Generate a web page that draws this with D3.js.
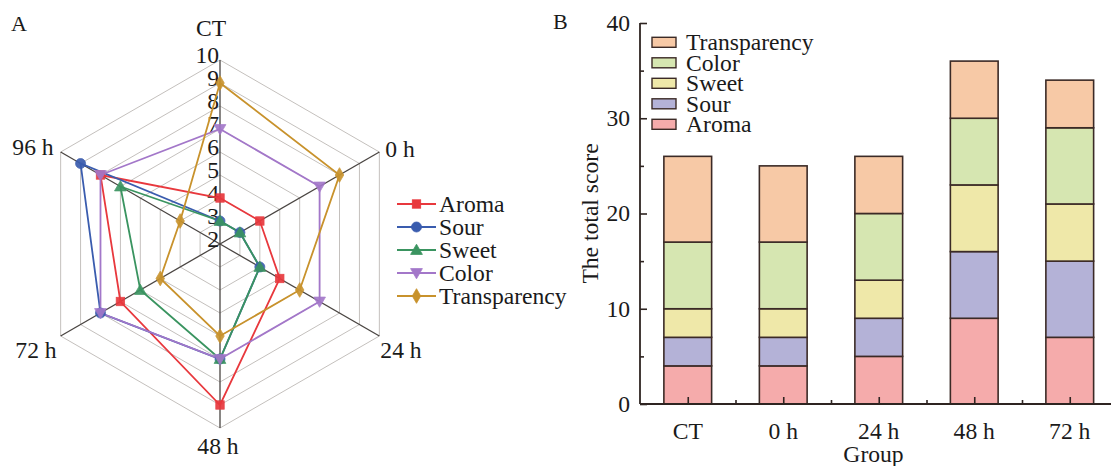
<!DOCTYPE html>
<html>
<head>
<meta charset="utf-8">
<script src="https://cdn.jsdelivr.net/npm/d3@7"></script>
<style>
  html, body { margin: 0; padding: 0; background: #fff; }
  svg { display: block; }
  text { font-family: "Liberation Serif", "Times New Roman", serif; fill: #1a1a1a; }
</style>
</head>
<body>
<svg id="chart" width="1111" height="466"></svg>
<script>
// Sensory scores per group
const radarGroups = ["CT", "0 h", "24 h", "48 h", "72 h", "96 h"];
const barGroups = ["CT", "0 h", "24 h", "48 h", "72 h"];
const attributes = ["Aroma", "Sour", "Sweet", "Color", "Transparency"];
const aroma = [4, 4, 5, 9, 7, 8];
const sour = [3, 3, 4, 7, 8, 9];
const sweet = [3, 3, 4, 7, 6, 7];
const color = [7, 7, 7, 7, 8, 8];
const transparency = [9, 8, 6, 6, 5, 4];
const radarTicks = [2, 3, 4, 5, 6, 7, 8, 9, 10];
const barTicks = [0, 10, 20, 30, 40];

const seriesValues = { Aroma: aroma, Sour: sour, Sweet: sweet, Color: color, Transparency: transparency };

const lineColors = { Aroma: "#e8383d", Sour: "#3a5cae", Sweet: "#3a9460", Color: "#a377c9", Transparency: "#c8922c" };
const markerTypes = { Aroma: "square", Sour: "circle", Sweet: "triangle", Color: "triangleDown", Transparency: "diamond" };
const barFills = { Aroma: "#f5abab", Sour: "#b4b2d7", Sweet: "#efe8a9", Color: "#d6e6b1", Transparency: "#f7c9a6" };

const svg = d3.select("#chart");
const FS = 22.5;
const SX = 1.05; // slightly wide lettering

// text placed at (x, y) with a little horizontal stretch
function label(g, x, y, str, opts = {}) {
  const t = g.append("text")
    .attr("transform", `translate(${x},${y}) scale(${opts.sx || SX},1)`)
    .attr("font-size", opts.size || FS)
    .attr("text-anchor", opts.anchor || "start")
    .text(str);
  if (opts.central) t.attr("dominant-baseline", "central");
  return t;
}

function drawMarker(g, type, x, y, fill) {
  let p;
  if (type === "square") {
    p = g.append("rect").attr("x", x - 4.2).attr("y", y - 4.2).attr("width", 8.4).attr("height", 8.4);
  } else if (type === "circle") {
    p = g.append("circle").attr("cx", x).attr("cy", y).attr("r", 5);
  } else {
    const sym = { triangle: d3.symbolTriangle, triangleDown: d3.symbolTriangle, diamond: d3.symbolDiamond }[type];
    const size = type === "diamond" ? 62 : 60;
    const rot = type === "triangleDown" ? 180 : 0;
    const dy = type === "triangle" ? 1 : (type === "triangleDown" ? -1 : 0);
    p = g.append("path").attr("d", d3.symbol().type(sym).size(size)())
      .attr("transform", `translate(${x},${y + dy}) rotate(${rot})`);
  }
  p.attr("fill", fill).attr("stroke", fill).attr("stroke-width", 0.8);
}

// ---------- Panel A: radar ----------
const cx = 220, cy = 244;
const rScale = d3.scaleLinear().domain([2, 10]).range([0, 184]);
const angle = i => (-90 + i * 60) * Math.PI / 180;
const pt = (i, v) => [cx + rScale(v) * Math.cos(angle(i)), cy + rScale(v) * Math.sin(angle(i))];

const radar = svg.append("g");

// hexagonal rings
radarTicks.slice(1).forEach(t => {
  const pts = radarGroups.map((_, i) => pt(i, t));
  radar.append("path")
    .attr("d", d3.line()(pts) + "Z")
    .attr("fill", "none").attr("stroke", "#c4c0bd").attr("stroke-width", 1);
});

// spokes
radarGroups.forEach((_, i) => {
  const [x, y] = pt(i, 10);
  radar.append("line").attr("x1", cx).attr("y1", cy).attr("x2", x).attr("y2", y)
    .attr("stroke", "#4a4542").attr("stroke-width", 1.3);
});

// ring value labels along the CT spoke
radarTicks.forEach(t => {
  label(radar, cx - 1, cy - rScale(t) + 3, t, { anchor: "end" });
});

// group labels
const labelPos = [
  { dx: -9, dy: -24, anchor: "middle" },
  { dx: 6, dy: 5, anchor: "start" },
  { dx: 1, dy: 22, anchor: "start" },
  { dx: -2, dy: 26, anchor: "middle" },
  { dx: -4, dy: 22, anchor: "end" },
  { dx: -7, dy: 3, anchor: "end" }
];
radarGroups.forEach((g, i) => {
  const [x, y] = pt(i, 10);
  label(radar, x + labelPos[i].dx, y + labelPos[i].dy, g, { anchor: labelPos[i].anchor });
});

// series polygons
const radarLine = d3.line();
attributes.forEach(a => {
  const vals = seriesValues[a];
  const pts = vals.map((v, i) => pt(i, v));
  radar.append("path").attr("d", radarLine(pts) + "Z")
    .attr("fill", "none").attr("stroke", lineColors[a]).attr("stroke-width", 1.8);
});
attributes.forEach(a => {
  const vals = seriesValues[a];
  const mg = radar.append("g").attr("opacity", 0.92);
  vals.forEach((v, i) => {
    const [x, y] = pt(i, v);
    drawMarker(mg, markerTypes[a], x, y, lineColors[a]);
  });
});

// legend
const legA = svg.append("g");
attributes.forEach((a, k) => {
  const y = 204 + k * 23;
  legA.append("line").attr("x1", 397).attr("x2", 436).attr("y1", y).attr("y2", y)
    .attr("stroke", lineColors[a]).attr("stroke-width", 1.8);
  drawMarker(legA, markerTypes[a], 416.5, y, lineColors[a]);
  label(legA, 439, y, a, { central: true });
});

label(svg, 11, 31, "A", { size: 21 });

// ---------- Panel B: stacked bars ----------
const axisColor = "#2e2421";
const x0 = 640, step = 95.5;
const xScale = d3.scaleBand().domain(barGroups)
  .range([x0, x0 + step * barGroups.length]).paddingInner(0.5).paddingOuter(0.25);
const yScale = d3.scaleLinear().domain([0, 40]).range([404, 23]);

const rows = barGroups.map((g, i) => {
  const r = { group: g };
  attributes.forEach(a => { r[a] = seriesValues[a][i]; });
  return r;
});
const stacked = d3.stack().keys(attributes)(rows);

const bars = svg.append("g");
stacked.forEach(layer => {
  bars.selectAll(null).data(layer).join("rect")
    .attr("x", d => xScale(d.data.group))
    .attr("width", xScale.bandwidth())
    .attr("y", d => yScale(d[1]))
    .attr("height", d => yScale(d[0]) - yScale(d[1]))
    .attr("fill", barFills[layer.key])
    .attr("stroke", "#3b2a26").attr("stroke-width", 1.6);
});

// y axis with inward ticks
const yAxis = d3.axisRight(yScale).tickValues(barTicks).tickSize(7).tickFormat("");
const yAxisG = svg.append("g").attr("transform", `translate(${x0},0)`).call(yAxis);
const yMinor = d3.axisRight(yScale).tickValues([5, 15, 25, 35]).tickSize(4).tickFormat("");
svg.append("g").attr("transform", `translate(${x0},0)`).call(yMinor).select(".domain").remove();
svg.selectAll(".tick line").attr("stroke", axisColor).attr("stroke-width", 1.6);
yAxisG.select(".domain").attr("d", `M0,${yScale(0)}V${yScale(40)}`)
  .attr("stroke", axisColor).attr("stroke-width", 1.8);

barTicks.forEach(t => {
  label(svg, x0 - 10, yScale(t), t, { anchor: "end", central: true });
});

// x axis with inward ticks at bar centers and between bars
const xCenters = d3.scalePoint().domain(barGroups)
  .range([xScale("CT") + xScale.bandwidth() / 2, xScale("72 h") + xScale.bandwidth() / 2]);
const xAxis = d3.axisTop(xCenters).tickSize(7).tickFormat("");
const xAxisG = svg.append("g").attr("transform", `translate(0,${yScale(0)})`).call(xAxis);
xAxisG.select(".domain").attr("d", `M${x0},0H1111`).attr("stroke", axisColor).attr("stroke-width", 1.8);
xAxisG.selectAll(".tick line").attr("stroke", axisColor).attr("stroke-width", 1.6);
const xMinorVals = barGroups.slice(1).map(g => xScale(g) - xScale.step() * 0.25);
const xMinorScale = d3.scaleIdentity();
const xMinorG = svg.append("g").attr("transform", `translate(0,${yScale(0)})`)
  .call(d3.axisTop(xMinorScale).tickValues(xMinorVals).tickSize(4).tickFormat(""));
xMinorG.select(".domain").remove();
xMinorG.selectAll(".tick line").attr("stroke", axisColor).attr("stroke-width", 1.6);

barGroups.forEach(g => {
  label(svg, xCenters(g), yScale(0) + 35, g, { anchor: "middle" });
});

label(svg, (x0 + 1111) / 2 - 2, 462, "Group", { anchor: "middle" });
svg.append("text").attr("transform", `translate(598,${yScale(20)}) rotate(-90) scale(${SX},1)`)
  .attr("text-anchor", "middle").attr("font-size", FS).text("The total score");

label(svg, 553, 29, "B", { size: 21 });

// legend (top entry = top of stack)
const legB = svg.append("g");
attributes.slice().reverse().forEach((a, k) => {
  const y = 42.3 + k * 20.5;
  legB.append("rect").attr("x", 652).attr("y", y - 5).attr("width", 24).attr("height", 10)
    .attr("fill", barFills[a]).attr("stroke", "#3b2a26").attr("stroke-width", 1.4);
  label(legB, 686, y, a, { central: true });
});
</script>
</body>
</html>
